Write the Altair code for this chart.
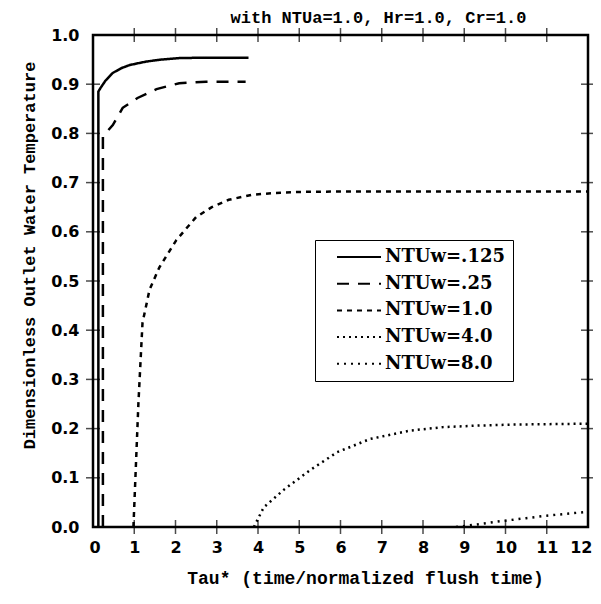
import altair as alt
import pandas as pd

# ---- data ----
series_names = ["NTUw=.125", "NTUw=.25", "NTUw=1.0", "NTUw=4.0", "NTUw=8.0"]

x_125 = [0.13, 0.13, 0.18, 0.3, 0.48, 0.7, 0.89, 1.29, 1.65, 2.09, 2.7, 3.3, 3.77]
y_125 = [0.0, 0.885, 0.892, 0.907, 0.923, 0.933, 0.939, 0.946, 0.950, 0.953, 0.954, 0.954, 0.954]

x_25 = [0.24, 0.24, 0.3, 0.48, 0.72, 1.08, 1.54, 2.09, 2.74, 3.7]
y_25 = [0.0, 0.793, 0.80, 0.817, 0.852, 0.872, 0.89, 0.902, 0.905, 0.905]

x_1 = [0.98, 1.1, 1.2, 1.37, 1.61, 2.02, 2.5, 2.88, 3.29, 3.84, 4.42, 5.0, 6.0, 8.0, 10.0, 12.0]
y_1 = [0.0, 0.25, 0.415, 0.482, 0.528, 0.583, 0.63, 0.65, 0.665, 0.675, 0.679, 0.681, 0.682, 0.682, 0.682, 0.682]

x_4 = [3.9, 4.14, 4.63, 5.27, 5.92, 6.72, 7.69, 8.49, 9.3, 10.1, 11.0, 12.0]
y_4 = [0.0, 0.04, 0.076, 0.116, 0.152, 0.179, 0.196, 0.203, 0.206, 0.208, 0.209, 0.21]

x_8 = [8.8, 9.2, 9.9, 10.5, 11.0, 11.5, 12.0]
y_8 = [0.0, 0.004, 0.012, 0.018, 0.023, 0.027, 0.031]

x_ticks = list(range(0, 13))
y_ticks = [0.0, 0.1, 0.2, 0.3, 0.4, 0.5, 0.6, 0.7, 0.8, 0.9, 1.0]
x_inner_ticks = list(range(1, 12))
y_inner_ticks = [0.1, 0.2, 0.3, 0.4, 0.5, 0.6, 0.7, 0.8, 0.9]

dash_range = [[1, 0], [12, 9], [5, 5], [2, 4], [2, 5]]

rows = []
for name, xs, ys in zip(series_names, [x_125, x_25, x_1, x_4, x_8], [y_125, y_25, y_1, y_4, y_8]):
    for i, (a, b) in enumerate(zip(xs, ys)):
        rows.append({"series": name, "x": a, "y": b, "i": i})
df = pd.DataFrame(rows)

W, H = 495, 492
TXT = "Liberation Mono"
NUM = "DejaVu Sans"

xscale = alt.Scale(domain=[0, 12], nice=False, zero=False)
yscale = alt.Scale(domain=[0, 1], nice=False, zero=False)

lines = alt.Chart(df).mark_line(color="black", strokeWidth=2.5, clip=True).encode(
    x=alt.X("x:Q", scale=xscale,
            axis=alt.Axis(values=x_ticks, format="d", title="Tau* (time/normalized flush time)",
                          ticks=False, domain=False, grid=False,
                          labelFlush=True, labelFlushOffset=4,
                          labelFont=NUM, labelFontSize=16, labelFontWeight="bold", labelColor="black",
                          labelPadding=12,
                          titleFont=TXT, titleFontSize=18, titleFontWeight="bold", titleColor="black",
                          titleX=272, titleY=51, titleBaseline="middle", titleAlign="center")),
    y=alt.Y("y:Q", scale=yscale,
            axis=alt.Axis(values=y_ticks, format=".1f", title="Dimensionless Outlet Water Temperature",
                          ticks=False, domain=False, grid=False, labelFlush=False,
                          labelFont=NUM, labelFontSize=16, labelFontWeight="bold", labelColor="black",
                          labelPadding=14,
                          titleFont=TXT, titleFontSize=17, titleFontWeight="bold", titleColor="black",
                          titleX=-64, titleY=220, titleAngle=270, titleBaseline="middle",
                          titleAlign="center")),
    strokeDash=alt.StrokeDash("series:N", scale=alt.Scale(domain=series_names, range=dash_range),
                              legend=alt.Legend(title=None, orient="none", legendX=222, legendY=205,
                                                symbolType="M1,0H9.8", symbolSize=100,
                                                symbolStrokeColor="black", symbolStrokeWidth=2,
                                                symbolFillColor="transparent",
                                                labelFont="DejaVu Serif", labelFontSize=18,
                                                labelFontWeight="bold", labelColor="black",
                                                labelExpr="datum.label + '\u00a0\u00a0\u00a0\u00a0'",
                                                labelOffset=44, rowPadding=8.7, padding=8,
                                                strokeColor="black", fillColor="white",
                                                labelLimit=300)),
    order=alt.Order("i:Q"),
)

tk = dict(color="black", thickness=1.5, size=14)
bottom_ticks = alt.Chart(pd.DataFrame({"t": x_inner_ticks})).mark_tick(**tk).encode(
    x=alt.X("t:Q", scale=xscale), y=alt.value(H))
top_ticks = alt.Chart(pd.DataFrame({"t": x_inner_ticks})).mark_tick(**tk).encode(
    x=alt.X("t:Q", scale=xscale), y=alt.value(0))
left_ticks = alt.Chart(pd.DataFrame({"t": y_inner_ticks})).mark_tick(**tk).encode(
    y=alt.Y("t:Q", scale=yscale), x=alt.value(0))
right_ticks = alt.Chart(pd.DataFrame({"t": y_inner_ticks})).mark_tick(**tk).encode(
    y=alt.Y("t:Q", scale=yscale), x=alt.value(W))

chart = alt.layer(lines, bottom_ticks, top_ticks, left_ticks, right_ticks).properties(
    width=W, height=H,
    title=alt.TitleParams("with NTUa=1.0, Hr=1.0, Cr=1.0", font=TXT, fontSize=17, fontWeight="bold",
                          color="black", anchor="middle", dx=38, offset=0),
    autosize=alt.AutoSizeParams(type="none"),
    padding={"left": 85, "top": 27, "right": 5, "bottom": 69},
).configure(background="white").configure_view(stroke="black", strokeWidth=2.5)

chart.save("out.html", embed_options={"renderer": "svg", "actions": False})
